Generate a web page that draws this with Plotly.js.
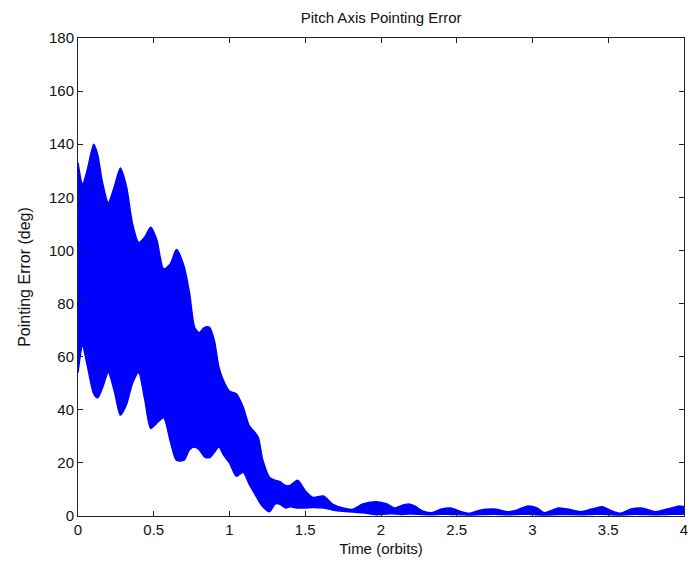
<!DOCTYPE html>
<html>
<head>
<meta charset="utf-8">
<script src="https://cdn.plot.ly/plotly-3.0.1.min.js"></script>
<style>html,body{margin:0;padding:0;background:#fff;}#chart{width:693px;height:569px;}</style>
</head>
<body>
<div id="chart"></div>
<script>
// Time in orbits (sample points of the envelope)
const timeOrbits = [0, 0.03, 0.06, 0.104, 0.13, 0.16, 0.20, 0.24, 0.28, 0.32, 0.36, 0.40, 0.44, 0.48, 0.52, 0.565, 0.61, 0.65, 0.70, 0.736, 0.77, 0.80, 0.835, 0.868, 0.90, 0.93, 0.96, 1.0, 1.045, 1.09, 1.13, 1.16, 1.19, 1.22, 1.265, 1.30, 1.33, 1.37, 1.40, 1.45, 1.50, 1.55, 1.62, 1.68, 1.75, 1.81, 1.88, 1.97, 2.04, 2.09, 2.13, 2.18, 2.23, 2.27, 2.33, 2.40, 2.46, 2.53, 2.585, 2.66, 2.75, 2.84, 2.90, 2.97, 3.03, 3.08, 3.17, 3.23, 3.32, 3.39, 3.46, 3.52, 3.58, 3.65, 3.72, 3.81, 3.89, 3.97, 4.0];
// Upper envelope of the oscillating pointing error (deg)
const errorUpper = [133, 125, 130, 140, 136, 126, 118, 124, 131, 124, 110, 103, 105, 108.7, 104, 93, 95, 100.4, 94, 84, 71, 69, 71, 71, 66, 56, 51, 47, 46, 41, 34, 32, 29.5, 21, 14.5, 13.5, 13, 11.5, 11.5, 13.5, 9.5, 7, 7.5, 4.5, 3, 2.5, 4.5, 5.4, 4.5, 3, 3.8, 4.5, 3.5, 2, 1.2, 2.6, 3, 1.6, 1, 2.3, 2.6, 1.6, 2.3, 3.8, 3, 1.2, 3, 2.6, 1.6, 2.6, 3.5, 2, 1, 2.6, 3, 1.6, 2.6, 3.8, 3.5];
// Lower envelope of the oscillating pointing error (deg)
const errorLower = [54, 64, 57, 46, 44.5, 48, 54, 47, 38, 42, 50, 54, 44, 33, 35, 37, 28, 21, 21, 25, 26, 25, 22.3, 22, 24, 26, 23, 20, 15, 16.5, 12, 9, 6, 3.5, 1.6, 4.5, 4.5, 3, 3.5, 3, 3, 3.2, 3, 2.3, 1.8, 1.5, 1.2, 0.5, 0.8, 0.8, 0.6, 0.8, 0.7, 0.6, 0.5, 0.7, 0.6, 0.5, 0.4, 0.6, 0.7, 0.5, 0.6, 0.7, 0.5, 0.4, 0.6, 0.6, 0.5, 0.6, 0.7, 0.5, 0.4, 0.6, 0.6, 0.5, 0.6, 0.7, 0.8];
const xTicks = [0, 0.5, 1, 1.5, 2, 2.5, 3, 3.5, 4];
const xTickText = ['0', '0.5', '1', '1.5', '2', '2.5', '3', '3.5', '4'];
const yTicks = [0, 20, 40, 60, 80, 100, 120, 140, 160, 180];

const blue = '#0000ff';
const traces = [
  {x: timeOrbits, y: errorLower, type: 'scatter', mode: 'lines', line: {color: blue, width: 1.5, shape: 'spline', smoothing: 0.7}, hoverinfo: 'skip', showlegend: false},
  {x: timeOrbits, y: errorUpper, type: 'scatter', mode: 'lines', fill: 'tonexty', fillcolor: blue, line: {color: blue, width: 1.5, shape: 'spline', smoothing: 0.7}, hoverinfo: 'skip', showlegend: false}
];
const fontFam = 'Arial, "Liberation Sans", Helvetica, sans-serif';
const txt = '#111';
const layout = {
  width: 693, height: 569,
  margin: {l: 78, r: 9, t: 38, b: 53},
  paper_bgcolor: '#fff', plot_bgcolor: '#fff',
  font: {family: fontFam, size: 15, color: txt},
  title: {text: 'Pitch Axis Pointing Error', x: 0.55, xanchor: 'center', y: 0.968, yanchor: 'middle', font: {family: fontFam, size: 15, color: txt}},
  xaxis: {range: [0, 4], tickvals: xTicks, ticktext: xTickText, ticks: 'inside', ticklen: 5, tickcolor: '#222', mirror: 'ticks', showline: true, linecolor: '#222', linewidth: 1, showgrid: false, zeroline: false,
    title: {text: 'Time (orbits)', standoff: 6, font: {family: fontFam, size: 15, color: txt}}, tickfont: {family: fontFam, size: 15, color: txt}},
  yaxis: {range: [0, 180], tickvals: yTicks, ticks: 'inside', ticklen: 5, tickcolor: '#222', mirror: 'ticks', showline: true, linecolor: '#222', linewidth: 1, showgrid: false, zeroline: false,
    title: {text: 'Pointing Error (deg)', standoff: 14, font: {family: fontFam, size: 16, color: txt}}, tickfont: {family: fontFam, size: 15, color: txt}}
};
Plotly.newPlot('chart', traces, layout, {staticPlot: true, displayModeBar: false});
</script>
</body>
</html>
